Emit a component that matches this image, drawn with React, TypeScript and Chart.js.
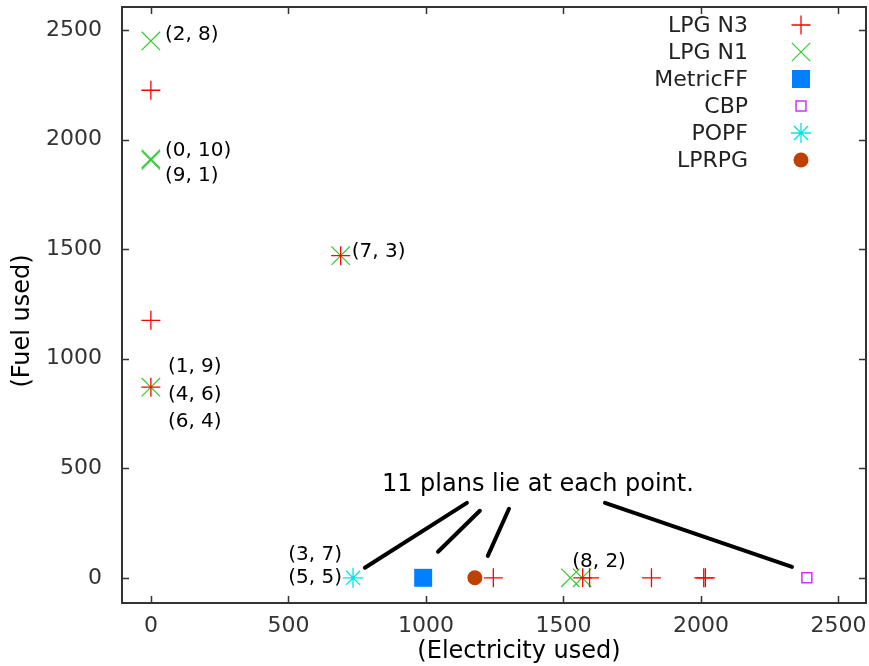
import React, { useEffect, useRef } from 'react';
import { Chart, registerables } from 'chart.js';
import { drawPoint } from 'chart.js/helpers';

Chart.register(...registerables);

// ---- axis ticks ----
const xTicks = [0, 500, 1000, 1500, 2000, 2500];
const yTicks = [0, 500, 1000, 1500, 2000, 2500];

// ---- series ----
const lpgN3X = [0, 0, 0, 690, 1245, 1570, 1595, 1820, 2010, 2016];
const lpgN3Y = [2225, 1175, 870, 1470, 0, 0, 0, 0, 0, 0];
const lpgN1X = [0, 0, 0, 0, 690, 1525, 1568];
const lpgN1Y = [2450, 1905, 1912, 870, 1470, 0, 0];
const metricFFX = [990];
const metricFFY = [0];
const cbpX = [2385];
const cbpY = [0];
const popfX = [735];
const popfY = [0];
const lprpgX = [1178];
const lprpgY = [0];

const seriesNames = ['LPG N3', 'LPG N1', 'MetricFF', 'CBP', 'POPF', 'LPRPG'];

// ---- point annotations ----
const pointLabels = ['(2, 8)', '(0, 10)', '(9, 1)', '(1, 9)', '(4, 6)', '(6, 4)', '(7, 3)', '(3, 7)', '(5, 5)', '(8, 2)'];
const labelAnchorX = [0, 0, 0, 0, 0, 0, 690, 735, 735, 1568];
const labelAnchorY = [2450, 1905, 1905, 870, 870, 870, 1470, 0, 0, 0];

const noteText = '11 plans lie at each point.';
const noteX = [1407];
const noteY = [424];
const arrowFromX = [1149, 1196, 1302, 1651];
const arrowFromY = [342, 306, 315, 342];
const arrowToX = [778, 1044, 1225, 2331];
const arrowToY = [46, 119, 100, 50];

const xTitle = '(Electricity used)';
const yTitle = '(Fuel used)';

const toPts = (xs: number[], ys: number[]) => xs.map((x, i) => ({ x, y: ys[i] }));

const FONT = '"DejaVu Sans", sans-serif';

const styles = [
  { pointStyle: 'cross', radius: 9.5, borderColor: '#ff0000', backgroundColor: '#ff0000', borderWidth: 1.3 },
  { pointStyle: 'crossRot', radius: 13, borderColor: '#33cc33', backgroundColor: '#33cc33', borderWidth: 1.2 },
  { pointStyle: 'rect', radius: 12.7, borderColor: '#0080ff', backgroundColor: '#0080ff', borderWidth: 0 },
  { pointStyle: 'rect', radius: 7, borderColor: '#cc33ff', backgroundColor: 'rgba(255,255,255,0)', borderWidth: 1.5 },
  { pointStyle: 'star', radius: 10, borderColor: '#00e5e5', backgroundColor: '#00e5e5', borderWidth: 1.3 },
  { pointStyle: 'circle', radius: 7.5, borderColor: '#c04000', backgroundColor: '#c04000', borderWidth: 0 },
];

// pixel offsets of label text from anchor [dx, dy, align]
const labelOffsets: [number, number, CanvasTextAlign][] = [
  [14, -6, 'left'], [14, -10, 'left'], [14, 15, 'left'],
  [17, -20, 'left'], [17, 8, 'left'], [17, 35, 'left'],
  [11, -4, 'left'], [-11, -23, 'right'], [-11, 0, 'right'], [-10, -16, 'left'],
];

const overlay = {
  id: 'overlay',
  afterDatasetsDraw(chart: any) {
    const { ctx, scales } = chart;
    const xs = scales.x, ys = scales.y;
    ctx.save();
    ctx.strokeStyle = '#000';
    ctx.lineWidth = 4;
    ctx.lineCap = 'round';
    for (let i = 0; i < arrowFromX.length; i++) {
      ctx.beginPath();
      ctx.moveTo(xs.getPixelForValue(arrowFromX[i]), ys.getPixelForValue(arrowFromY[i]));
      ctx.lineTo(xs.getPixelForValue(arrowToX[i]), ys.getPixelForValue(arrowToY[i]));
      ctx.stroke();
    }
    ctx.fillStyle = '#000';
    ctx.font = `24px ${FONT}`;
    ctx.textAlign = 'center';
    ctx.textBaseline = 'middle';
    ctx.fillText(noteText, xs.getPixelForValue(noteX[0]), ys.getPixelForValue(noteY[0]));
    ctx.font = `20px ${FONT}`;
    for (let i = 0; i < pointLabels.length; i++) {
      const [dx, dy, al] = labelOffsets[i];
      ctx.textAlign = al;
      ctx.fillText(pointLabels[i], xs.getPixelForValue(labelAnchorX[i]) + dx, ys.getPixelForValue(labelAnchorY[i]) + dy);
    }
    ctx.restore();
  },
  afterDraw(chart: any) {
    const { ctx, chartArea, scales } = chart;
    const { left, right, top, bottom } = chartArea;
    const xs = scales.x, ys = scales.y;
    ctx.save();
    ctx.strokeStyle = '#333';
    ctx.lineWidth = 2;
    ctx.strokeRect(left, top, right - left, bottom - top);
    ctx.lineWidth = 1.5;
    ctx.beginPath();
    for (const v of xTicks) {
      const p = Math.round(xs.getPixelForValue(v)) + 0.5;
      ctx.moveTo(p, bottom); ctx.lineTo(p, bottom - 7);
      ctx.moveTo(p, top); ctx.lineTo(p, top + 7);
    }
    for (const v of yTicks) {
      const p = Math.round(ys.getPixelForValue(v)) + 0.5;
      ctx.moveTo(left, p); ctx.lineTo(left + 7, p);
      ctx.moveTo(right, p); ctx.lineTo(right - 7, p);
    }
    ctx.stroke();
    ctx.fillStyle = '#000';
    ctx.font = `24px ${FONT}`;
    ctx.textAlign = 'center';
    ctx.textBaseline = 'middle';
    ctx.fillText(xTitle, 519, 652);
    ctx.translate(23, 321);
    ctx.rotate(-Math.PI / 2);
    ctx.fillText(yTitle, 0, 0);
    ctx.restore();
    ctx.save();
    ctx.font = `22px ${FONT}`;
    ctx.textAlign = 'right';
    ctx.textBaseline = 'middle';
    for (let i = 0; i < seriesNames.length; i++) {
      const y = 25 + i * 27;
      ctx.fillStyle = '#222';
      ctx.fillText(seriesNames[i], 748, y + 1);
      const s = styles[i];
      ctx.fillStyle = s.backgroundColor;
      ctx.strokeStyle = s.borderColor;
      ctx.lineWidth = s.borderWidth;
      drawPoint(ctx, { pointStyle: s.pointStyle as any, radius: s.radius, rotation: 0, borderWidth: s.borderWidth }, 801, y);
    }
    ctx.restore();
  },
};

export default function App() {
  const ref = useRef<HTMLCanvasElement>(null);
  useEffect(() => {
    if (!ref.current) return;
    const seriesData = [
      toPts(lpgN3X, lpgN3Y),
      toPts(lpgN1X, lpgN1Y),
      toPts(metricFFX, metricFFY),
      toPts(cbpX, cbpY),
      toPts(popfX, popfY),
      toPts(lprpgX, lprpgY),
    ];
    const chart = new Chart(ref.current, {
      type: 'scatter',
      data: {
        datasets: seriesNames.map((name, i) => ({
          label: name,
          data: seriesData[i],
          pointStyle: styles[i].pointStyle as any,
          pointRadius: styles[i].radius,
          pointHoverRadius: styles[i].radius,
          borderColor: styles[i].borderColor,
          backgroundColor: styles[i].backgroundColor,
          pointBorderWidth: styles[i].borderWidth,
          borderWidth: styles[i].borderWidth,
        })),
      },
      options: {
        animation: false,
        responsive: true,
        maintainAspectRatio: false,
        layout: { autoPadding: false, padding: { top: 7, right: 3, left: 0, bottom: 0 } },
        plugins: { legend: { display: false }, tooltip: { enabled: false } },
        scales: {
          x: {
            type: 'linear',
            min: -105,
            max: 2600,
            grid: { display: false, drawTicks: false },
            border: { display: false },
            ticks: { color: '#333', font: { family: FONT, size: 22 }, padding: 10, callback: (v: any) => String(v) },
            afterBuildTicks: (s: any) => { s.ticks = xTicks.map((v) => ({ value: v })); },
            afterFit: (s: any) => { s.height = 63; s.paddingLeft = 0; s.paddingRight = 0; },
          },
          y: {
            type: 'linear',
            min: -115,
            max: 2605,
            grid: { display: false, drawTicks: false },
            border: { display: false },
            ticks: { color: '#333', font: { family: FONT, size: 22 }, padding: 20, callback: (v: any) => String(v) },
            afterBuildTicks: (s: any) => { s.ticks = yTicks.map((v) => ({ value: v })); },
            afterFit: (s: any) => { s.width = 122; s.paddingTop = 0; s.paddingBottom = 0; },
          },
        },
      },
      plugins: [overlay],
    });
    return () => chart.destroy();
  }, []);
  return (
    <div style={{ position: 'absolute', left: 0, top: 0, width: 869, height: 666, background: '#fff' }}>
      <canvas ref={ref} />
    </div>
  );
}
